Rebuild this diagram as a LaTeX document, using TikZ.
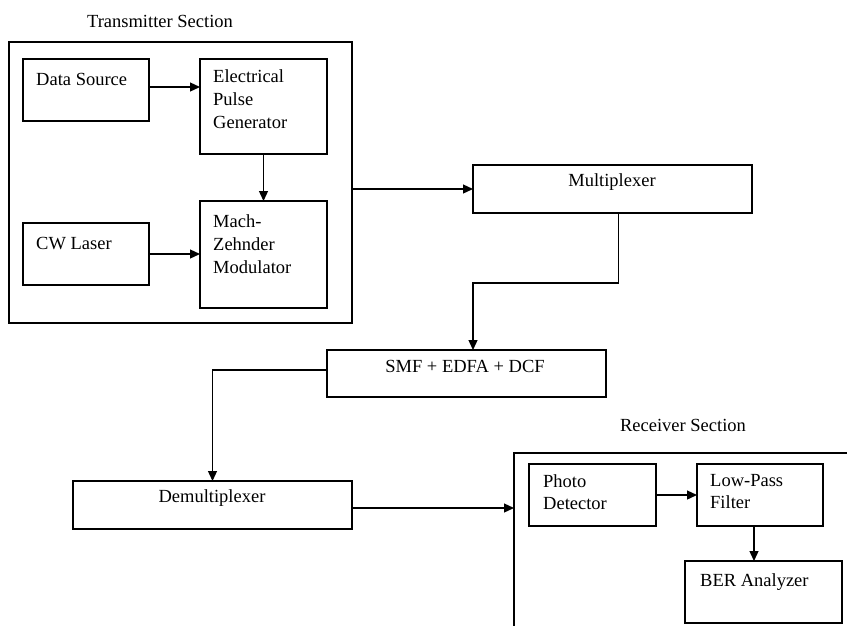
\documentclass[tikz,border=0pt]{standalone}
\usepackage{fontspec}
\setmainfont{Liberation Serif}
\usetikzlibrary{arrows.meta,calc}
\begin{document}
\begin{tikzpicture}[x=1pt,y=-1pt,
 box/.style={draw, line width=1.3pt, inner sep=0pt, outer sep=0pt, anchor=north west},
 lbl/.style={inner sep=0pt, font=\fontsize{18.5}{23}\selectfont},
 lblr/.style={inner sep=0pt, font=\fontsize{18.5}{22}\selectfont},
 arr/.style={line width=1.3pt, -{Triangle[length=10pt,width=9pt]}}]
\clip (0,0) rectangle (847,625);
\fill[white] (0,0) rectangle (847,625);
% transmitter section
\node[box, minimum width=343pt, minimum height=281pt] (tx) at (9,42) {};
\node[box, minimum width=126pt, minimum height=62pt] (ds) at (23,59) {};
\node[box, minimum width=127pt, minimum height=95pt] (epg) at (200,59) {};
\node[box, minimum width=127pt, minimum height=107pt] (mzm) at (200,201) {};
\node[box, minimum width=126pt, minimum height=62pt] (cw) at (23,223) {};
% middle
\node[box, minimum width=279pt, minimum height=48pt] (mux) at (473,165) {};
\node[box, minimum width=279pt, minimum height=47pt] (smf) at (327,350) {};
\node[box, minimum width=279pt, minimum height=48pt] (demux) at (73,481) {};
% receiver section
\node[box, minimum width=400pt, minimum height=300pt] (rx) at (514,453) {};
\node[box, minimum width=127pt, minimum height=62pt] (pd) at (529,464) {};
\node[box, minimum width=126pt, minimum height=62pt] (lpf) at (697,464) {};
\node[box, minimum width=157pt, minimum height=62pt] (ber) at (685,561) {};
% labels
\node[lbl, anchor=base] (txt) at (160,27) {Transmitter Section};
\node[lbl, anchor=base west] (dsl) at (36,85) {Data Source};
\node[lbl, anchor=north west, align=left] (epgl) at (213,69) {Electrical\\Pulse\\Generator};
\node[lbl, anchor=north west, align=left] (mzml) at (213,214) {Mach-\\Zehnder\\Modulator};
\node[lbl, anchor=base west] (cwl) at (36,249) {CW Laser};
\node[lbl, anchor=base] (muxl) at (612,186) {Multiplexer};
\node[lbl, anchor=base] (smfl) at (465,372) {SMF + EDFA + DCF};
\node[lbl, anchor=base] (demuxl) at (212,502) {Demultiplexer};
\node[lbl, anchor=base] (rxt) at (683,431) {Receiver Section};
\node[lblr, anchor=north west, align=left] (pdl) at (543,474) {Photo\\Detector};
\node[lblr, anchor=north west, align=left] (lpfl) at (710,474) {Low-Pass\\Filter};
\node[lbl, anchor=base west] (berl) at (700,586) {BER Analyzer};
% connectors
\draw[arr] ([yshift=3pt]ds.east) -- ([yshift=3pt]ds.east -| epg.west);
\draw[arr] (cw.east) -- (cw.east -| mzm.west);
\draw[arr] (epg.south) -- (mzm.north);
\draw[arr] (tx.east |- mux.west) -- (mux.west);
\draw[arr] ([xshift=6pt]mux.south) -- ++(0,70) -| ([xshift=6.5pt]smf.north);
\draw[arr] ([yshift=3.5pt]smf.west) -| (demux.north);
\draw[arr] ([yshift=-3pt]demux.east) -- ([yshift=-3pt]demux.east -| rx.west);
\draw[arr] (pd.east) -- (pd.east -| lpf.west);
\draw[arr] ([xshift=-6pt]lpf.south) -- ([xshift=-6pt]lpf.south |- ber.north);
\end{tikzpicture}
\end{document}
